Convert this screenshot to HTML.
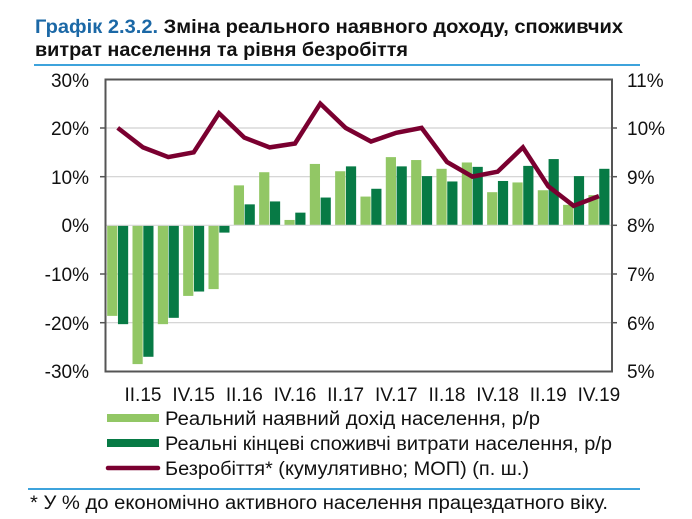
<!DOCTYPE html>
<html><head><meta charset="utf-8"><style>
body{margin:0;background:#fff;}
svg{display:block;font-family:"Liberation Sans",sans-serif;}
</style></head><body>
<svg width="692" height="519" viewBox="0 0 692 519" xmlns="http://www.w3.org/2000/svg">
<text x="35" y="33" font-size="19" font-weight="bold" textLength="588" lengthAdjust="spacingAndGlyphs"><tspan fill="#1b68a6">Графік 2.3.2.</tspan><tspan fill="#111"> Зміна реального наявного доходу, споживчих</tspan></text>
<text x="35" y="56" font-size="19" font-weight="bold" fill="#111" textLength="373" lengthAdjust="spacingAndGlyphs">витрат населення та рівня безробіття</text>
<line x1="34" y1="65" x2="640" y2="65" stroke="#3ea3dc" stroke-width="2"/>
<g stroke="#d0d0d0" stroke-width="1.2">
<line x1="105" y1="128" x2="612" y2="128"/><line x1="105" y1="176.7" x2="612" y2="176.7"/>
<line x1="105" y1="274" x2="612" y2="274"/><line x1="105" y1="322.7" x2="612" y2="322.7"/>
</g>
<g id="bars"></g>
<line x1="105" y1="225.3" x2="612" y2="225.3" stroke="#d8d8d8" stroke-width="1.2"/>
<polyline id="ln" fill="none" stroke="#7a0030" stroke-width="4.5" stroke-linejoin="miter"/>
<rect x="105.5" y="79.5" width="506.5" height="292" fill="none" stroke="#555" stroke-width="2"/>
<g stroke="#555" stroke-width="1.5">
<line x1="612" y1="128" x2="617" y2="128"/><line x1="612" y1="176.7" x2="617" y2="176.7"/><line x1="612" y1="225.3" x2="617" y2="225.3"/><line x1="612" y1="274" x2="617" y2="274"/><line x1="612" y1="322.7" x2="617" y2="322.7"/>
<line x1="100" y1="128" x2="105" y2="128"/><line x1="100" y1="176.7" x2="105" y2="176.7"/><line x1="100" y1="274" x2="105" y2="274"/><line x1="100" y1="322.7" x2="105" y2="322.7"/>
</g>
<g font-size="19" fill="#111" text-anchor="end">
<text x="89" y="87">30%</text><text x="89" y="135">20%</text><text x="89" y="184">10%</text><text x="89" y="232">0%</text><text x="89" y="281">-10%</text><text x="89" y="330">-20%</text><text x="89" y="378">-30%</text>
</g>
<g font-size="19" fill="#111">
<text x="627" y="87">11%</text><text x="627" y="135">10%</text><text x="627" y="184">9%</text><text x="627" y="232">8%</text><text x="627" y="281">7%</text><text x="627" y="330">6%</text><text x="627" y="378">5%</text>
</g>
<g font-size="19" fill="#111" text-anchor="middle" id="xl"></g>
<rect x="107" y="414" width="52" height="8" fill="#92c765"/>
<rect x="107" y="439" width="52" height="8" fill="#077a45"/>
<line x1="108" y1="468" x2="158" y2="468" stroke="#7a0030" stroke-width="4.5" stroke-linecap="round"/>
<g font-size="19" fill="#111">
<text x="165" y="425" textLength="375" lengthAdjust="spacingAndGlyphs">Реальний наявний дохід населення,  р/р</text>
<text x="165" y="450" textLength="447" lengthAdjust="spacingAndGlyphs">Реальні кінцеві споживчі витрати населення, р/р</text>
<text x="165" y="475" textLength="364" lengthAdjust="spacingAndGlyphs">Безробіття* (кумулятивно; МОП) (п. ш.)</text>
</g>
<line x1="28" y1="489" x2="640" y2="489" stroke="#3ea3dc" stroke-width="2"/>
<text x="30" y="509" font-size="19" fill="#111" textLength="578" lengthAdjust="spacingAndGlyphs">* У % до економічно активного населення працездатного віку.</text>
<script>
var L=[-18.6,-28.5,-20.3,-14.5,-13.1,8.2,10.9,1.1,12.6,11.1,5.9,14.0,13.4,11.6,12.9,6.8,8.8,7.2,4.2,6.2];
var D=[-20.3,-27,-19,-13.6,-1.5,4.3,4.9,2.6,5.7,12.1,7.5,12.1,10.1,9.0,12.0,9.1,12.2,13.6,10.1,11.6];
var U=[10.0,9.6,9.4,9.5,10.3,9.8,9.6,9.68,10.5,10.0,9.72,9.9,10.0,9.3,9.0,9.1,9.6,8.8,8.4,8.6];
var ns="http://www.w3.org/2000/svg",g=document.getElementById('bars'),pts=[],xl=document.getElementById('xl');
var labs=["II.15","IV.15","II.16","IV.16","II.17","IV.17","II.18","IV.18","II.19","IV.19"];
function y(v){return 225.3-v*4.87;}
for(var i=0;i<20;i++){var c=105+25.33*(i+0.5);
[[L[i],c-10.5,'#92c765'],[D[i],c+0.3,'#077a45']].forEach(function(b){var r=document.createElementNS(ns,'rect');var y0=y(Math.max(b[0],0)),h=Math.abs(b[0])*4.87;r.setAttribute('x',b[1]);r.setAttribute('width',10.2);r.setAttribute('y',y0);r.setAttribute('height',h);r.setAttribute('fill',b[2]);g.appendChild(r);});
pts.push(c.toFixed(1)+','+(225.3-(U[i]-8)*48.7).toFixed(1));
if(i%2==1){var t=document.createElementNS(ns,'text');t.setAttribute('x',c);t.setAttribute('y',401);t.textContent=labs[(i-1)/2];xl.appendChild(t);}}
document.getElementById('ln').setAttribute('points',pts.join(' '));
</script>
</svg>
</body></html>
